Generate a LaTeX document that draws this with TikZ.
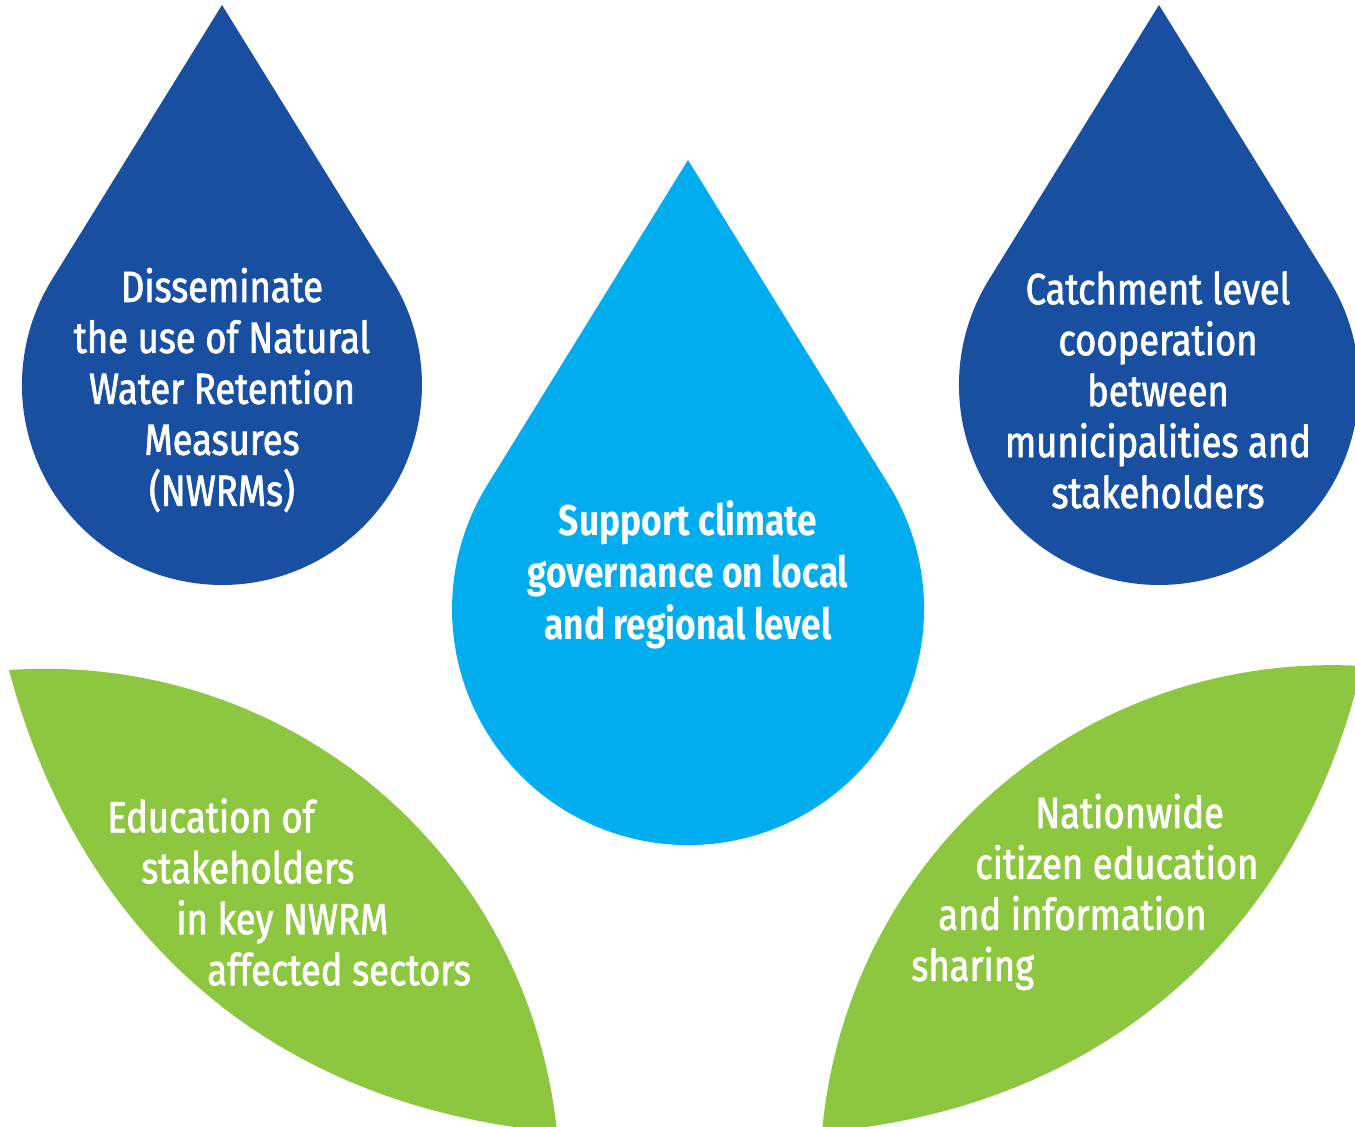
\documentclass[tikz,border=0pt]{standalone}
\usepackage{fontspec}
\usepackage{tikz}
\usetikzlibrary{positioning}
\newfontfamily\dropfont{Fira Sans}[FakeStretch=0.835,FakeBold=1.7]
\newfontfamily\midfont{Fira Sans}[FakeStretch=0.82]
\definecolor{dropdark}{RGB}{24,79,160}
\definecolor{droplight}{RGB}{0,173,239}
\definecolor{leafgreen}{RGB}{141,198,63}

\begin{document}
\begin{tikzpicture}[x=0.2mm,y=0.2mm,
  droptext/.style={text=white,inner sep=0pt,align=center,font=\dropfont\fontsize{24.8}{29}\selectfont},
  midtext/.style={text=white,inner sep=0pt,align=center,font=\midfont\bfseries\fontsize{24.5}{29.6}\selectfont},
  leaftext/.style={text=white,inner sep=0pt,align=left,anchor=west,font=\dropfont\fontsize{24.8}{29}\selectfont}]
%\draw[step=50,color=gray] (0,0) grid (1355,1127);
\useasboundingbox (0,0) rectangle (1355,1127);
\clip (0,0) rectangle (1355,1127);
%left leaf
\fill[leafgreen] (9,457) to[bend left=44] (557,-5) to[bend left=35] (9,457) -- cycle;
%right leaf
\fill[leafgreen] (1362,461) to[bend left=36] (822,-5) to[bend left=44] (1362,461) -- cycle;
%left drop, circle r=200 at (222,742)
\fill[dropdark] (222,1122) -- (392,847.3) arc[start angle=31.76,end angle=-211.76,radius=200] -- cycle;
%right drop, circle r=200 at (1159,742)
\fill[dropdark] (1159,1122) -- (1329,847.3) arc[start angle=31.76,end angle=-211.76,radius=200] -- cycle;
%middle drop, circle r=236 at (688,518)
\fill[droplight] (688,967) -- (888.8,642) arc[start angle=31.71,end angle=-211.71,radius=236] -- cycle;
%texts in the drops
\node[droptext] (disseminate) at (222,737) {Disseminate\\the use of Natural\\Water Retention\\Measures\\(NWRMs)};
\node[droptext] (catchment) at (1158,737) {Catchment level\\cooperation\\between\\municipalities and\\stakeholders};
\node[midtext] (support) at (688,552) {Support climate\\governance on local\\and regional level};
%texts in the leaves
\node[leaftext] (education) at (107,235) {Education of\\\hspace*{6.8mm}stakeholders\\\hspace*{13.8mm}in key NWRM\\\hspace*{20mm}affected sectors};
\node[leaftext] (nationwide) at (911,235) {\hspace*{24.8mm}Nationwide\\\hspace*{12.8mm}citizen education\\\hspace*{5.4mm}and information\\sharing};
\end{tikzpicture}
\end{document}
